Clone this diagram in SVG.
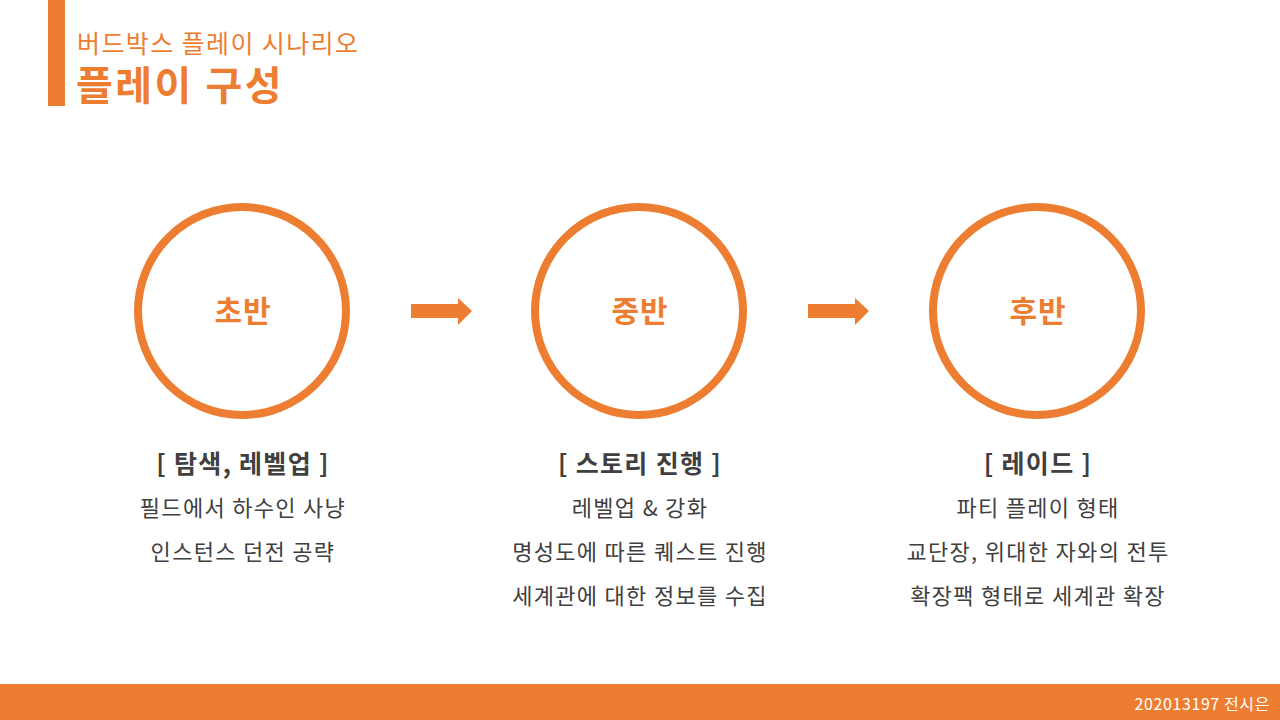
<svg xmlns="http://www.w3.org/2000/svg" width="1280" height="720" viewBox="0 0 1280 720">
<style>
text{font-family:"Noto Sans CJK KR","Noto Sans",sans-serif}
.ring{fill:none;stroke:#ED7D31;stroke-width:8}
.lbl{fill:#ED7D31;font-size:30px;font-weight:700;text-anchor:middle;letter-spacing:1px}
.hd{fill:#404040;font-size:25px;font-weight:700;text-anchor:middle;letter-spacing:1.3px}
.ln{fill:#404040;font-size:22px;text-anchor:middle;letter-spacing:1.3px}
.arr{fill:#ED7D31}
</style>
<rect width="1280" height="720" fill="#fff"/>
<rect x="48" y="0" width="17" height="106" fill="#ED7D31"/>
<text x="77" y="53" font-size="25" letter-spacing="1.4" fill="#ED7D31">버드박스 플레이 시나리오</text>
<text x="76" y="100" font-size="40" letter-spacing="2.5" font-weight="700" fill="#ED7D31">플레이 구성</text>
<g id="connectors">
<polygon class="arr" points="411,304 458,304 458,298 472,311 458,325 458,318 411,318"/>
<polygon class="arr" points="808,304 855,304 855,298 869,311 855,325 855,318 808,318"/>
</g>
<g id="node-early">
<circle class="ring" cx="242" cy="311" r="104"/>
<text class="lbl" x="243" y="322">초반</text>
<text class="hd" x="243" y="473">[ 탐색, 레벨업 ]</text>
<text class="ln" x="243" y="516">필드에서 하수인 사냥</text>
<text class="ln" x="243" y="560">인스턴스 던전 공략</text>
</g>
<g id="node-mid">
<circle class="ring" cx="639" cy="311" r="104"/>
<text class="lbl" x="640" y="322">중반</text>
<text class="hd" x="640" y="473">[ 스토리 진행 ]</text>
<text class="ln" x="640" y="516">레벨업 &amp; 강화</text>
<text class="ln" x="640" y="560">명성도에 따른 퀘스트 진행</text>
<text class="ln" x="640" y="604">세계관에 대한 정보를 수집</text>
</g>
<g id="node-late">
<circle class="ring" cx="1037" cy="311" r="104"/>
<text class="lbl" x="1038" y="322">후반</text>
<text class="hd" x="1038" y="473">[ 레이드 ]</text>
<text class="ln" x="1038" y="516">파티 플레이 형태</text>
<text class="ln" x="1038" y="560">교단장, 위대한 자와의 전투</text>
<text class="ln" x="1038" y="604">확장팩 형태로 세계관 확장</text>
</g>
<rect x="0" y="684" width="1280" height="36" fill="#ED7D31"/>
<text x="1270" y="710" font-size="16" letter-spacing="0.6" fill="#fff" text-anchor="end">202013197 전시은</text>
</svg>
